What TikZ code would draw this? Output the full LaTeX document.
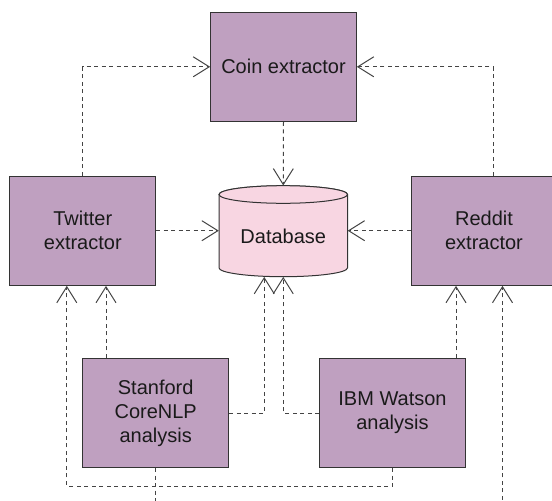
\documentclass[tikz,border=0pt]{standalone}
\usepackage{fontspec}
\setmainfont{Liberation Sans}
\usetikzlibrary{arrows.meta}
\definecolor{boxfill}{HTML}{BFA0C0}
\definecolor{boxborder}{HTML}{333333}
\definecolor{dbfill}{HTML}{F8D6E2}
\definecolor{linecol}{HTML}{444444}
\definecolor{txt}{HTML}{1A1A1A}
\tikzset{
  box/.style={draw=boxborder, fill=boxfill, line width=1pt, minimum width=145.7pt,
    minimum height=109.3pt, inner sep=0pt, align=center, text=txt,
    font=\fontsize{20}{24}\selectfont},
  conn/.style={draw=linecol, line width=1pt, dash pattern=on 4pt off 3.5pt,
    -{Straight Barb[length=16pt,width=20pt]}},
  dbshape/.style={draw=boxborder, fill=dbfill, line width=1pt},
  lbl/.style={text=txt, font=\fontsize{20}{24}\selectfont, inner sep=0pt}
}
\begin{document}
\begin{tikzpicture}[x=1pt,y=-1pt]
\useasboundingbox (0,0) rectangle (552,501);
\clip (0,0) rectangle (552,501);
% boxes
\node[box] (coin) at (283.5,66.8) {Coin extractor};
\node[box] (tw) at (82.8,230.7) {Twitter\\extractor};
\node[box] (rd) at (484,230.7) {Reddit\\extractor};
\node[box] (st) at (155.7,413) {Stanford\\CoreNLP\\analysis};
\node[box] (ibm) at (392.5,413) {IBM Watson\\analysis};
% database cylinder
\path[dbshape] (219,194.5) -- (219,267.9)
  arc[start angle=180, end angle=0, x radius=64.25, y radius=8.8]
  -- (347.5,194.5)
  arc[start angle=0, end angle=-180, x radius=64.25, y radius=8.8] -- cycle;
\draw[dbshape] (283.25,194.5) ellipse [x radius=64.25, y radius=8.8];
\node[minimum width=128.5pt, minimum height=91pt, inner sep=0pt] (db) at (283.25,231.2) {};
\node[lbl] (dbtext) at (283.25,236) {Database};
% connectors
\draw[conn] (tw.north) |- (coin.west);
\draw[conn] ([xshift=9pt]rd.north) |- (coin.east);
\draw[conn] (coin.south) -- (db.north);
\draw[conn] (tw.east) -- (tw.east -| db.west);
\draw[conn] (rd.west) -- (rd.west -| db.east);
\draw[conn] ([xshift=-49.7pt]st.north) -- ([xshift=-49.7pt]st.north |- tw.south);
\draw[conn] (st.east) -| ([xshift=-19pt]db.south);
\draw[conn] (ibm.west) -| (db.south);
\draw[conn] ([xshift=63.5pt]ibm.north) -- ([xshift=63.5pt]ibm.north |- rd.south);
\draw[conn] (ibm.south) -- ++(0,18) -| ([xshift=-16pt]tw.south);
\draw[conn] (st.south) -- ++(0,60) -| ([xshift=18.5pt]rd.south);
\end{tikzpicture}
\end{document}
